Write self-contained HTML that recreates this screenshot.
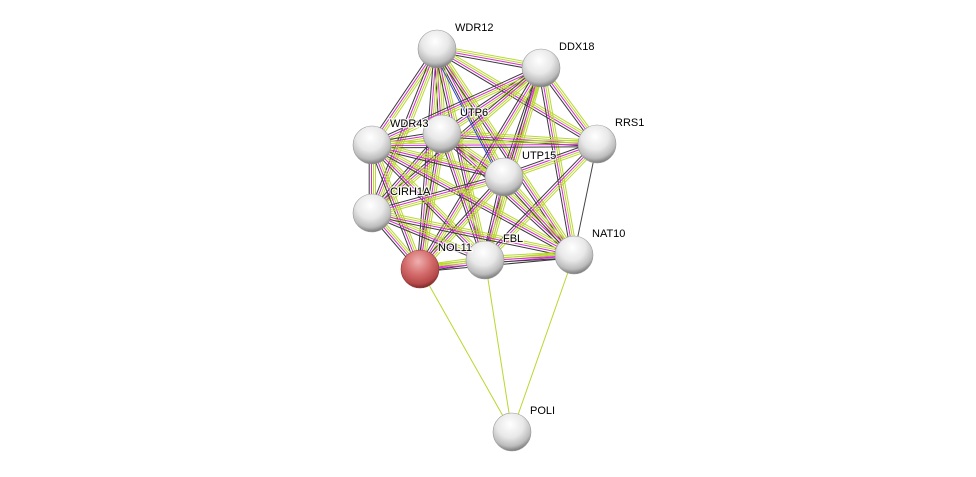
<!DOCTYPE html>
<html><head><meta charset="utf-8"><style>
html,body{margin:0;padding:0;background:#fff;width:976px;height:477px;overflow:hidden}
svg text{font-family:"Liberation Sans",Arial,sans-serif;font-size:11px;fill:#000;stroke:#fff;stroke-width:2.5px;paint-order:stroke;stroke-opacity:0.8}
</style></head><body>
<svg id="s" width="976" height="477" viewBox="0 0 976 477" xmlns="http://www.w3.org/2000/svg">
<defs>
<radialGradient id="g" cx="45%" cy="30%" r="70%">
<stop offset="0" stop-color="#ffffff"/><stop offset="0.5" stop-color="#e8e8e8"/><stop offset="0.82" stop-color="#bcbcbc"/><stop offset="1" stop-color="#7a7a7a"/></radialGradient>
<radialGradient id="r" cx="45%" cy="30%" r="70%">
<stop offset="0" stop-color="#f0b0b0"/><stop offset="0.5" stop-color="#d46c6c"/><stop offset="0.85" stop-color="#b54848"/><stop offset="1" stop-color="#7a2a2a"/></radialGradient>
</defs>
<g id="e"></g><g id="n"></g>
</svg>
<script>
var N={WDR12:[437,49],DDX18:[541,68],UTP6:[442,134],WDR43:[372,145],RRS1:[597,144],UTP15:[504,177],CIRH1A:[372,213],NOL11:[420,269],FBL:[485,260],NAT10:[574,255],POLI:[512,432]};
var cl=["WDR12","DDX18","UTP6","WDR43","RRS1","UTP15","CIRH1A","NOL11","FBL","NAT10"];
var e=document.getElementById('e'),ns="http://www.w3.org/2000/svg";
function L(a,b,off,c,w){var dx=b[0]-a[0],dy=b[1]-a[1],l=Math.hypot(dx,dy),px=-dy/l*off,py=dx/l*off;
var p=document.createElementNS(ns,'line');p.setAttribute('x1',a[0]+px);p.setAttribute('y1',a[1]+py);p.setAttribute('x2',b[0]+px);p.setAttribute('y2',b[1]+py);p.setAttribute('stroke',c);p.setAttribute('stroke-width',w||1);e.appendChild(p);}
var skip={"RRS1-CIRH1A":1,"RRS1-NOL11":1};
for(var i=0;i<cl.length;i++)for(var j=i+1;j<cl.length;j++){var a=N[cl[i]],b=N[cl[j]];var k=cl[i]+"-"+cl[j];
if(skip[k])continue;
if(k=="RRS1-NAT10"){L(a,b,0,"#444");continue;}
L(a,b,-3.5,"#b8d82f");L(a,b,-1.5,"#b8d82f");L(a,b,0.5,"#d62ad6");L(a,b,2.8,"#3a3a3a");}
L(N.WDR12,N.UTP15,4.5,"#3344dd");
["NOL11","FBL","NAT10"].forEach(function(x){L(N[x],N.POLI,0,"#b8d82f");});
var n=document.getElementById('n');
for(var k in N){var c=document.createElementNS(ns,'circle');c.setAttribute('cx',N[k][0]);c.setAttribute('cy',N[k][1]);c.setAttribute('r',19);
c.setAttribute('fill',k=="NOL11"?"url(#r)":"url(#g)");c.setAttribute('stroke',k=="NOL11"?"#8a3a3a":"#999");c.setAttribute('stroke-width',0.6);n.appendChild(c);}
for(var k in N){var t=document.createElementNS(ns,'text');t.setAttribute('x',N[k][0]+18);t.setAttribute('y',N[k][1]-18);t.textContent=k;n.appendChild(t);}
</script>
</body></html>
